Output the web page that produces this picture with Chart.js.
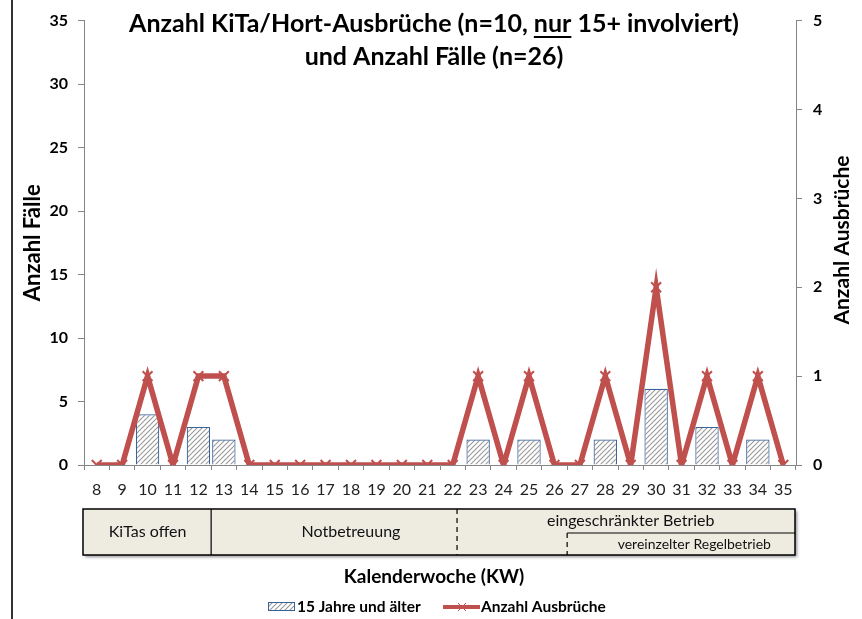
<!DOCTYPE html>
<html>
<head>
<meta charset="utf-8">
<script src="https://cdn.jsdelivr.net/npm/chart.js@4.4.0/dist/chart.umd.min.js"></script>
<style>
  html, body { margin: 0; padding: 0; background: #fff; }
  canvas { display: block; }
</style>
</head>
<body>
<canvas id="chart" width="862" height="619"></canvas>
<script>
// Kalenderwochen 8..35
const weeks = ['8', '9', '10', '11', '12', '13', '14', '15', '16', '17', '18', '19', '20', '21',
               '22', '23', '24', '25', '26', '27', '28', '29', '30', '31', '32', '33', '34', '35'];
// Anzahl Fälle, 15 Jahre und älter
const cases15plus = [0, 0, 4, 0, 3, 2, 0, 0, 0, 0, 0, 0, 0, 0,
                     0, 2, 0, 2, 0, 0, 2, 0, 6, 0, 3, 0, 2, 0];
// Anzahl Ausbrüche
const outbreaks = [0, 0, 1, 0, 1, 1, 0, 0, 0, 0, 0, 0, 0, 0,
                   0, 1, 0, 1, 0, 0, 1, 0, 2, 0, 1, 0, 1, 0];

const leftTicksMax = 35;
const rightTicksMax = 5;

const titleLine1 = ['Anzahl KiTa/Hort-Ausbrüche (n=10, ', 'nur', ' 15+ involviert)'];
const titleLine2 = 'und Anzahl Fälle (n=26)';
const phaseLabels = ['KiTas offen', 'Notbetreuung', 'eingeschränkter Betrieb', 'vereinzelter Regelbetrieb'];
const xTitle = 'Kalenderwoche (KW)';
const yTitle = 'Anzahl Fälle';
const y1Title = 'Anzahl Ausbrüche';
const seriesNames = ['15 Jahre und älter', 'Anzahl Ausbrüche'];

const RED = '#c0504d';
const BLUE = '#3a629a';
const FONT = 'Lato, "Open Sans", sans-serif';

const canvas = document.getElementById('chart');
const mainCtx = canvas.getContext('2d');

// diagonal hatch like the Excel pattern fill
function makeHatch() {
    const c = document.createElement('canvas');
    c.width = 5; c.height = 5;
    const g = c.getContext('2d');
    g.fillStyle = '#fff';
    g.fillRect(0, 0, 5, 5);
    g.strokeStyle = '#999';
    g.lineWidth = 1.1;
    g.beginPath();
    g.moveTo(0, 5); g.lineTo(5, 0);
    g.moveTo(-1, 1); g.lineTo(1, -1);
    g.moveTo(4, 6); g.lineTo(6, 4);
    g.stroke();
    return mainCtx.createPattern(c, 'repeat');
}
const hatch = makeHatch();

// title, right axis title, phase table, x axis title and legend
const extras = {
    id: 'extras',
    afterDraw(chart) {
        const { ctx, chartArea } = chart;
        const x = chart.scales.x;
        const px = w => x.getPixelForValue(weeks.indexOf(w));
        const step = px('9') - px('8');

        ctx.save();

        // left frame line
        ctx.strokeStyle = '#333';
        ctx.lineWidth = 2;
        ctx.beginPath();
        ctx.moveTo(12, 0); ctx.lineTo(12, 619);
        ctx.stroke();

        // title
        ctx.fillStyle = '#000';
        ctx.font = 'bold 25px ' + FONT;
        ctx.textBaseline = 'middle';
        ctx.textAlign = 'left';
        const full = titleLine1.join('');
        const fullW = ctx.measureText(full).width;
        const cx = 434;
        const tx = cx - fullW / 2;
        ctx.fillText(full, tx, 24);
        const preW = ctx.measureText(titleLine1[0]).width;
        const nurW = ctx.measureText(titleLine1[1]).width;
        ctx.lineWidth = 2;
        ctx.strokeStyle = '#000';
        ctx.beginPath();
        ctx.moveTo(tx + preW, 37); ctx.lineTo(tx + preW + nurW, 37);
        ctx.stroke();
        ctx.textAlign = 'center';
        ctx.fillText(titleLine2, cx, 57);

        // right axis title, reading bottom to top
        ctx.save();
        ctx.translate(842, 240);
        ctx.rotate(-Math.PI / 2);
        ctx.font = 'bold 21px ' + FONT;
        ctx.fillText(y1Title, 0, 0);
        ctx.restore();

        // phase table
        const top = 509, bottom = 555, mid = 533;
        const left = chartArea.left - 1, right = chartArea.right - 1;
        ctx.save();
        ctx.shadowColor = 'rgba(0,0,0,0.45)';
        ctx.shadowOffsetX = 2;
        ctx.shadowOffsetY = 2;
        ctx.shadowBlur = 3;
        ctx.fillStyle = '#eeece1';
        ctx.fillRect(left, top, right - left, bottom - top);
        ctx.restore();
        ctx.strokeStyle = '#000';
        ctx.lineWidth = 1.5;
        ctx.strokeRect(left, top, right - left, bottom - top);

        const b1 = (px('12') + px('13')) / 2;
        const b2 = px('22') + 0.17 * step;
        const b3 = (px('26') + px('27')) / 2;
        ctx.lineWidth = 1.2;
        ctx.beginPath();
        ctx.moveTo(b1, top); ctx.lineTo(b1, bottom);
        ctx.stroke();
        ctx.setLineDash([5, 4]);
        ctx.beginPath();
        ctx.moveTo(b2, top); ctx.lineTo(b2, bottom);
        ctx.moveTo(b3, mid); ctx.lineTo(b3, bottom);
        ctx.stroke();
        ctx.setLineDash([]);
        ctx.beginPath();
        ctx.moveTo(b3, mid); ctx.lineTo(right, mid);
        ctx.stroke();

        ctx.fillStyle = '#111';
        ctx.font = '16px ' + FONT;
        ctx.fillText(phaseLabels[0], px('10'), 532);
        ctx.fillText(phaseLabels[1], px('18'), 532);
        ctx.fillText(phaseLabels[2], px('29'), 521);
        ctx.font = '14px ' + FONT;
        ctx.fillText(phaseLabels[3], (px('31') + px('32')) / 2, 544);

        // x axis title
        ctx.fillStyle = '#000';
        ctx.font = 'bold 19px ' + FONT;
        ctx.fillText(xTitle, 434, 577);

        // legend
        const ly = 607;
        ctx.fillStyle = hatch;
        ctx.fillRect(268, ly - 5, 27, 9);
        ctx.strokeStyle = BLUE;
        ctx.lineWidth = 1;
        ctx.strokeRect(268.5, ly - 4.5, 26, 8);
        ctx.fillStyle = '#000';
        ctx.font = 'bold 15.5px ' + FONT;
        ctx.textAlign = 'left';
        ctx.fillText(seriesNames[0], 297, ly);

        ctx.strokeStyle = RED;
        ctx.lineWidth = 4;
        ctx.beginPath();
        ctx.moveTo(443, ly); ctx.lineTo(480, ly);
        ctx.stroke();
        ctx.lineWidth = 1;
        ctx.beginPath();
        ctx.moveTo(458, ly - 4); ctx.lineTo(466, ly + 4);
        ctx.moveTo(458, ly + 4); ctx.lineTo(466, ly - 4);
        ctx.stroke();
        ctx.fillText(seriesNames[1], 481, ly);

        ctx.restore();
    }
};

new Chart(canvas, {
    type: 'bar',
    data: {
        labels: weeks,
        datasets: [
            {
                type: 'line',
                label: seriesNames[1],
                data: outbreaks,
                yAxisID: 'y1',
                borderColor: RED,
                backgroundColor: RED,
                borderWidth: 5.5,
                tension: 0,
                pointStyle: 'crossRot',
                pointRadius: 7,
                pointBorderWidth: 2,
                pointBorderColor: RED,
                order: 0,
            },
            {
                type: 'bar',
                label: seriesNames[0],
                data: cases15plus,
                yAxisID: 'y',
                backgroundColor: hatch,
                borderColor: BLUE,
                borderWidth: 1.2,
                categoryPercentage: 1,
                barPercentage: 0.92,
                order: 1,
            },
        ],
    },
    options: {
        responsive: false,
        animation: false,
        layout: { padding: { top: 12, left: 0, right: 0, bottom: 0 } },
        plugins: {
            legend: { display: false },
            title: { display: false },
            tooltip: { enabled: false },
        },
        scales: {
            x: {
                offset: true,
                grid: { offset: true, drawOnChartArea: false, tickLength: 5, color: '#868686' },
                border: { color: '#868686' },
                ticks: { color: '#222', font: { family: FONT, size: 16 }, padding: 10, maxRotation: 0, autoSkip: false },
                afterFit: s => { s.height = 154; },
            },
            y: {
                position: 'left',
                min: 0,
                max: leftTicksMax,
                grid: { drawOnChartArea: false, tickLength: 6, color: '#868686' },
                border: { color: '#868686' },
                ticks: { stepSize: 5, color: '#000', font: { family: FONT, size: 16, weight: 'bold' }, padding: 10 },
                title: { display: true, text: yTitle, color: '#000',
                         font: { family: FONT, size: 22, weight: 'bold' }, padding: { top: 20, bottom: 0 } },
                afterFit: s => { s.width = 84; },
            },
            y1: {
                position: 'right',
                min: 0,
                max: rightTicksMax,
                grid: { drawOnChartArea: false, tickLength: 6, color: '#868686' },
                border: { color: '#868686' },
                ticks: { stepSize: 1, color: '#000', font: { family: FONT, size: 16, weight: 'bold' }, padding: 11 },
                afterFit: s => { s.width = 66; },
            },
        },
    },
    plugins: [extras],
});
</script>
</body>
</html>
